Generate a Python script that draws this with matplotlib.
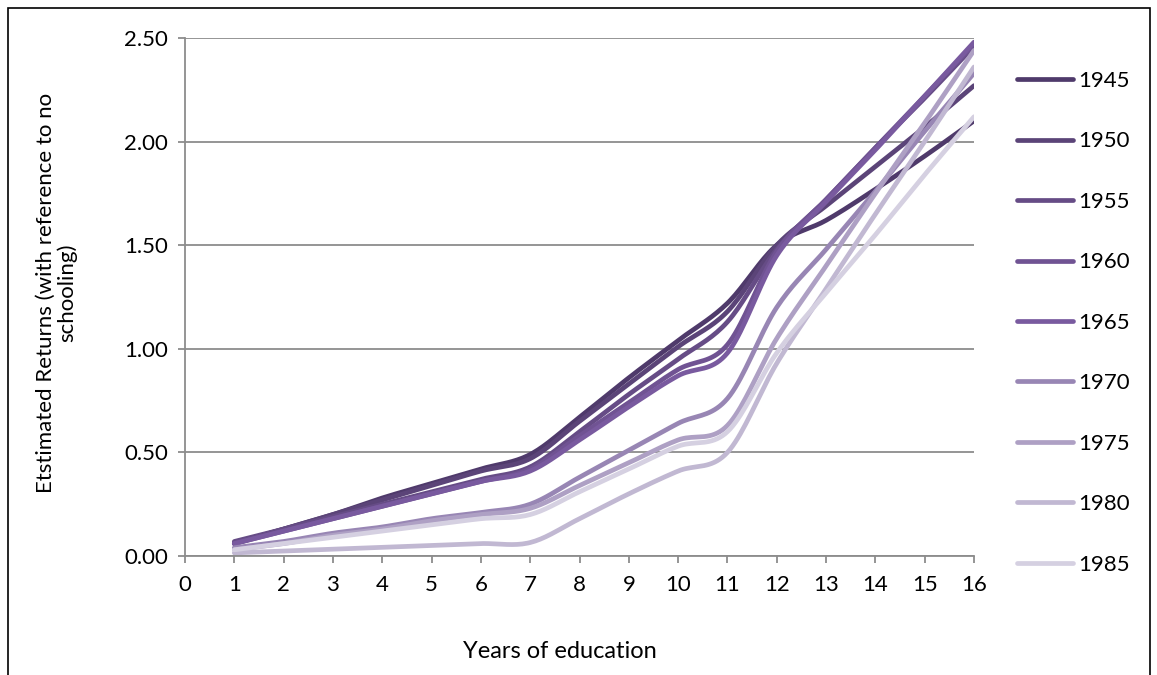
import numpy as np
import matplotlib
matplotlib.use('Agg')
import matplotlib.pyplot as plt
from matplotlib.patches import Rectangle

plt.rcParams['font.family'] = ['Lato', 'DejaVu Sans']

years = list(range(1, 17))

r1945 = [0.06, 0.13, 0.20, 0.28, 0.35, 0.42, 0.49, 0.67, 0.86, 1.04, 1.22, 1.50, 1.62, 1.77, 1.93, 2.10]
r1950 = [0.06, 0.13, 0.20, 0.27, 0.34, 0.41, 0.47, 0.65, 0.83, 1.01, 1.18, 1.50, 1.69, 1.88, 2.07, 2.27]
r1955 = [0.07, 0.13, 0.19, 0.25, 0.31, 0.37, 0.43, 0.60, 0.78, 0.95, 1.13, 1.48, 1.72, 1.97, 2.21, 2.46]
r1960 = [0.06, 0.12, 0.18, 0.24, 0.30, 0.36, 0.42, 0.58, 0.74, 0.90, 1.02, 1.47, 1.72, 1.97, 2.22, 2.47]
r1965 = [0.06, 0.12, 0.18, 0.24, 0.30, 0.36, 0.41, 0.56, 0.72, 0.87, 0.98, 1.45, 1.71, 1.96, 2.22, 2.48]
r1970 = [0.04, 0.07, 0.11, 0.14, 0.18, 0.21, 0.25, 0.38, 0.51, 0.64, 0.76, 1.20, 1.48, 1.76, 2.05, 2.33]
r1975 = [0.03, 0.06, 0.10, 0.13, 0.17, 0.20, 0.23, 0.34, 0.45, 0.56, 0.63, 1.05, 1.40, 1.75, 2.09, 2.44]
r1980 = [0.015, 0.024, 0.033, 0.042, 0.051, 0.06, 0.065, 0.18, 0.30, 0.41, 0.50, 0.93, 1.29, 1.65, 2.00, 2.36]
r1985 = [0.03, 0.06, 0.09, 0.12, 0.15, 0.18, 0.20, 0.31, 0.42, 0.53, 0.60, 0.98, 1.27, 1.55, 1.84, 2.12]

cohorts = ['1945', '1950', '1955', '1960', '1965', '1970', '1975', '1980', '1985']
series = [r1945, r1950, r1955, r1960, r1965, r1970, r1975, r1980, r1985]
colors = ['#4f3a6b', '#5b4478', '#664c86', '#705393', '#795a9f',
          '#9886b4', '#aea0c4', '#c1b8d2', '#d5d0e1']


def smooth(x, y, n=20):
    # smoothed line: cubic bezier segments with catmull-rom tangents
    p = np.column_stack([x, y]).astype(float)
    pts = [p[0]]
    for i in range(len(p) - 1):
        p0 = p[i - 1] if i > 0 else p[i]
        p3 = p[i + 2] if i + 2 < len(p) else p[i + 1]
        c1 = p[i] + (p[i + 1] - p0) / 6
        c2 = p[i + 1] - (p3 - p[i]) / 6
        t = np.linspace(0, 1, n)[1:, None]
        seg = ((1 - t) ** 3 * p[i] + 3 * (1 - t) ** 2 * t * c1
               + 3 * (1 - t) * t ** 2 * c2 + t ** 3 * p[i + 1])
        pts.extend(seg)
    pts = np.array(pts)
    return pts[:, 0], pts[:, 1]


fig = plt.figure(figsize=(11.57, 6.75), dpi=100)
ax = fig.add_axes([185 / 1157, 1 - 556 / 675, (974 - 185) / 1157, (556 - 38) / 675])

for name, vals, c in zip(cohorts, series, colors):
    sx, sy = smooth(years, vals)
    ax.plot(sx, sy, color=c, lw=3.4, label=name, solid_capstyle='round')

ax.set_xlim(0, 16)
ax.set_ylim(0, 2.5)
ax.set_xticks(range(0, 17))
ax.set_yticks(np.arange(0, 2.51, 0.5))
ax.yaxis.set_major_formatter(matplotlib.ticker.FormatStrFormatter('%.2f'))
ax.grid(axis='y', color='#8c8c8c', lw=1.3)
ax.set_axisbelow(True)
for s in ['top', 'right']:
    ax.spines[s].set_visible(False)
for s in ['left', 'bottom']:
    ax.spines[s].set_color('#8c8c8c')
    ax.spines[s].set_linewidth(1.3)
ax.tick_params(axis='both', colors='#8c8c8c', labelcolor='black',
               labelsize=16, length=5, width=1.3)
ax.tick_params(axis='x', pad=9)
ax.tick_params(axis='y', pad=7)

fig.text(57 / 1157, 1 - 293 / 675,
         'Etstimated Returns (with reference to no\nschooling)',
         rotation=90, ha='center', va='center', fontsize=16, linespacing=1.05)
fig.text(560 / 1157, 1 - 651 / 675, 'Years of education',
         ha='center', va='center', fontsize=17)

leg = fig.legend(loc='upper left', bbox_to_anchor=(997 / 1157, 1 - 51 / 675),
                 frameon=False, fontsize=16, handlelength=2.5,
                 handletextpad=0.27, labelspacing=1.82)

fig.patches.append(Rectangle((8 / 1157, -0.05), (1150 - 8) / 1157, 1.05 - 8 / 675,
                             transform=fig.transFigure, fill=False,
                             edgecolor='black', lw=1.2))

fig.savefig('out.png', dpi=100)
